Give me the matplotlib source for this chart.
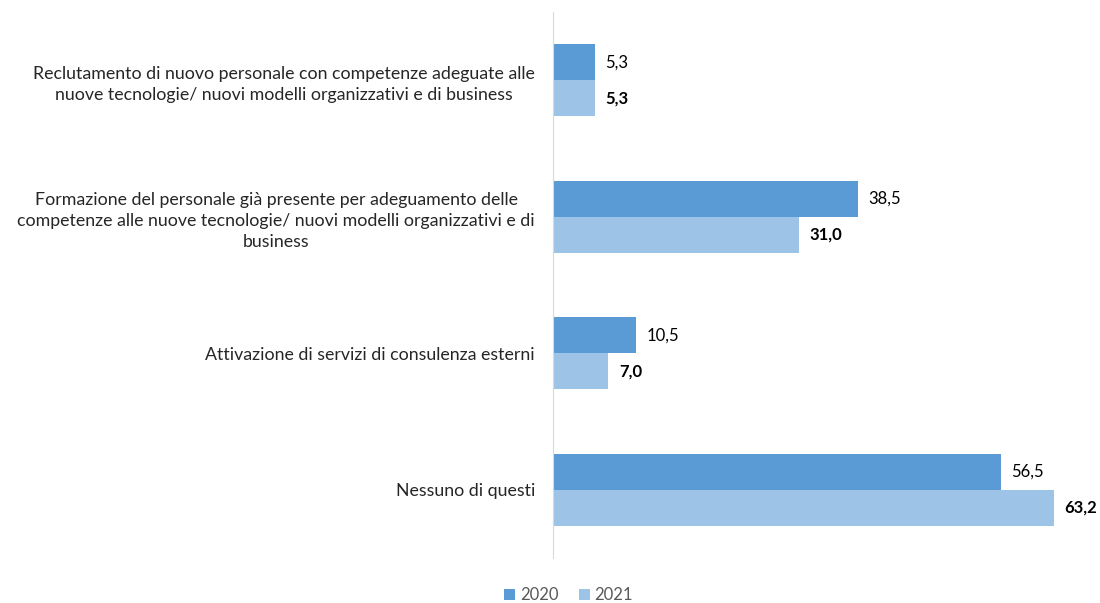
import matplotlib
matplotlib.use("Agg")
import matplotlib.pyplot as plt
import numpy as np

categories = [
    "Reclutamento di nuovo personale con competenze adeguate alle\nnuove tecnologie/ nuovi modelli organizzativi e di business",
    "Formazione del personale già presente per adeguamento delle\ncompetenze alle nuove tecnologie/ nuovi modelli organizzativi e di\nbusiness",
    "Attivazione di servizi di consulenza esterni",
    "Nessuno di questi",
]
v2020 = [5.3, 38.5, 10.5, 56.5]
v2021 = [5.3, 31.0, 7.0, 63.2]
series = ["2020", "2021"]
colors = ["#5B9BD5", "#9DC3E6"]

plt.rcParams['font.family'] = ['Lato', 'DejaVu Sans']

fig = plt.figure(figsize=(11, 6.03), dpi=100)
ax = fig.add_axes([553/1100, 1-558/603, 1-553/1100, (558-12)/603])

y = np.arange(len(categories))
h = 0.265
b1 = ax.barh(y - h/2, v2020, height=h, color=colors[0], label=series[0])
b2 = ax.barh(y + h/2, v2021, height=h, color=colors[1], label=series[1])

def fmt(v):
    return f"{v:.1f}".replace(".", ",")

for yy, v in zip(y - h/2, v2020):
    ax.annotate(fmt(v), (v, yy), xytext=(7.5, 0), textcoords="offset points",
                va="center", ha="left", fontsize=12, color="#000000")
for yy, v in zip(y + h/2, v2021):
    ax.annotate(fmt(v), (v, yy), xytext=(7.5, 0), textcoords="offset points",
                va="center", ha="left", fontsize=12, fontweight="bold", color="#000000")

ax.set_xlim(0, 69)
ax.set_ylim(3.5, -0.5)
ax.set_xticks([])
ax.set_yticks(y)
ax.set_yticklabels(categories, fontsize=12.8, multialignment="center", linespacing=1.42, color="#262626")
ax.tick_params(axis="y", length=0, pad=13)
for s in ["top", "right", "bottom"]:
    ax.spines[s].set_visible(False)
ax.spines["left"].set_color("#D9D9D9")

fig.legend(handles=[b1, b2], labels=series, loc="lower center", bbox_to_anchor=(0.517, -0.025),
           ncol=2, frameon=False, fontsize=12, handlelength=0.65, handleheight=0.65,
           handletextpad=0.3, columnspacing=1.2, labelcolor="#595959")

fig.savefig("out.png", dpi=100)
